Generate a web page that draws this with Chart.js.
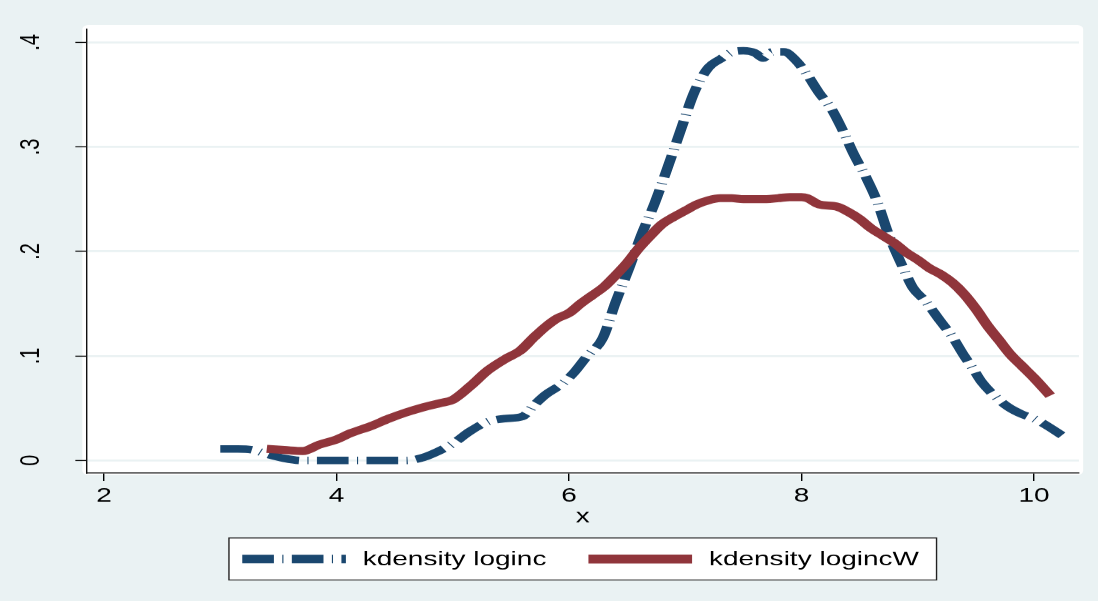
<!DOCTYPE html>
<html>
<head>
<meta charset="utf-8">
<script src="https://cdn.jsdelivr.net/npm/chart.js@4.4.1/dist/chart.umd.min.js"></script>
<style>
  html, body { margin: 0; padding: 0; background: #EAF2F3; overflow: hidden; }
  /* the graph is laid out on a narrow canvas and widened horizontally */
  #wrap { width: 784px; height: 601px; transform: scaleX(1.40051); transform-origin: 0 0; }
  canvas { display: block; }
</style>
</head>
<body>
<div id="wrap"><canvas id="kd" width="784" height="601"></canvas></div>
<script>
// kernel density estimate of loginc
const logincX = [3.00, 3.15, 3.28, 3.40, 3.55, 3.70, 4.00, 4.30, 4.60, 4.75, 4.90, 5.00, 5.15, 5.30, 5.45, 5.60,
                 5.70, 5.80, 5.95, 6.05, 6.15, 6.29, 6.40, 6.52, 6.62, 6.74, 6.86, 6.97, 7.08, 7.20, 7.30, 7.41,
                 7.50, 7.60, 7.67, 7.75, 7.85, 7.95, 8.05, 8.15, 8.26, 8.35, 8.45, 8.56, 8.65, 8.75, 8.88, 8.96,
                 9.07, 9.19, 9.30, 9.40, 9.48, 9.55, 9.65, 9.78, 9.90, 10.00, 10.10, 10.24];
const logincY = [0.011, 0.011, 0.010, 0.006, 0.002, 0.000, 0.000, 0.000, 0.000, 0.003, 0.010, 0.016, 0.028, 0.037, 0.040, 0.042,
                 0.053, 0.063, 0.074, 0.085, 0.099, 0.117, 0.151, 0.185, 0.215, 0.247, 0.284, 0.319, 0.353, 0.376, 0.384, 0.391,
                 0.392, 0.390, 0.385, 0.391, 0.391, 0.383, 0.369, 0.352, 0.336, 0.317, 0.293, 0.270, 0.248, 0.216, 0.183, 0.165,
                 0.152, 0.134, 0.118, 0.100, 0.087, 0.075, 0.063, 0.051, 0.044, 0.040, 0.034, 0.024];

// kernel density estimate of logincW
const logincWX = [3.40, 3.55, 3.71, 3.85, 4.00, 4.12, 4.30, 4.45, 4.60, 4.75, 4.90, 5.00, 5.15, 5.30, 5.45, 5.58,
                  5.70, 5.80, 5.90, 6.00, 6.10, 6.20, 6.30, 6.40, 6.50, 6.60, 6.70, 6.80, 6.90, 7.00, 7.10, 7.20,
                  7.30, 7.40, 7.50, 7.60, 7.70, 7.80, 7.90, 8.00, 8.05, 8.15, 8.30, 8.40, 8.50, 8.60, 8.70, 8.80,
                  8.90, 9.00, 9.10, 9.20, 9.30, 9.40, 9.50, 9.60, 9.70, 9.80, 9.90, 10.00, 10.14];
const logincWY = [0.011, 0.010, 0.009, 0.015, 0.020, 0.026, 0.033, 0.040, 0.046, 0.051, 0.055, 0.058, 0.071, 0.086, 0.097, 0.105,
                  0.118, 0.128, 0.136, 0.141, 0.150, 0.158, 0.166, 0.177, 0.189, 0.203, 0.215, 0.226, 0.233, 0.239, 0.245, 0.249,
                  0.251, 0.251, 0.250, 0.250, 0.250, 0.251, 0.252, 0.252, 0.251, 0.245, 0.243, 0.238, 0.231, 0.222, 0.215, 0.208,
                  0.199, 0.192, 0.184, 0.178, 0.170, 0.159, 0.145, 0.129, 0.115, 0.101, 0.090, 0.079, 0.062];

const seriesLabels = ['kdensity loginc', 'kdensity logincW'];
const xTickValues = [2, 4, 6, 8, 10];
const yTickValues = [0, 0.1, 0.2, 0.3, 0.4];
const yTickLabels = ['0', '.1', '.2', '.3', '.4'];
const xTitle = 'x';

const BG = '#EAF2F3';
const NAVY = '#1A476F';
const MAROON = '#90353B';
const FONT = '"Liberation Sans", Arial, Helvetica, sans-serif';

Chart.defaults.font.family = FONT;
Chart.defaults.font.size = 20;
Chart.defaults.color = '#000';

const toPoints = (xs, ys) => xs.map((x, i) => ({ x: x, y: ys[i] }));

// page background and the white plot region behind the axes
const backdrop = {
  id: 'backdrop',
  beforeDraw(chart) {
    const { ctx, chartArea: a, width, height } = chart;
    ctx.save();
    ctx.fillStyle = BG;
    ctx.fillRect(0, 0, width, height);
    ctx.fillStyle = '#fff';
    ctx.beginPath();
    ctx.roundRect(a.left - 3, a.top - 4, a.right - a.left + 6, a.bottom - a.top + 6, 4);
    ctx.fill();
    ctx.restore();
  }
};

// boxed legend below the x-axis title
const boxLegend = {
  id: 'boxLegend',
  afterDraw(chart) {
    const { ctx, chartArea: a, scales } = chart;
    const ds = chart.data.datasets;
    const padL = 10, padR = 13, sym = 74, gapText = 12, gapItem = 30, boxH = 43;
    ctx.save();
    ctx.font = '20px ' + FONT;
    const widths = ds.map(d => ctx.measureText(d.label).width);
    let total = padL + padR;
    widths.forEach((w, i) => { total += sym + gapText + w + (i ? gapItem : 0); });
    const left = (a.left + a.right) / 2 - total / 2;
    const top = scales.x.bottom + 4.5;
    ctx.fillStyle = '#fff';
    ctx.fillRect(left, top, total, boxH);
    ctx.strokeStyle = '#222';
    ctx.lineWidth = 1;
    ctx.strokeRect(left + 0.5, top + 0.5, total - 1, boxH - 1);
    const cy = top + boxH / 2;
    let x = left + padL;
    ds.forEach((d, i) => {
      if (i) x += gapItem;
      ctx.beginPath();
      ctx.strokeStyle = d.borderColor;
      ctx.lineWidth = d.borderWidth + 1;
      ctx.lineCap = 'butt';
      ctx.setLineDash(d.borderDash || []);
      ctx.moveTo(x, cy);
      ctx.lineTo(x + sym, cy);
      ctx.stroke();
      ctx.setLineDash([]);
      x += sym + gapText;
      ctx.fillStyle = '#000';
      ctx.textAlign = 'left';
      ctx.textBaseline = 'middle';
      ctx.fillText(d.label, x, cy + 1);
      x += widths[i];
    });
    ctx.restore();
  }
};

new Chart(document.getElementById('kd'), {
  type: 'line',
  data: {
    datasets: [
      {
        label: seriesLabels[0],
        data: toPoints(logincX, logincY),
        borderColor: NAVY,
        borderWidth: 7.5,
        borderDash: [22.6, 6, 0.8, 6],
        borderCapStyle: 'butt',
        borderJoinStyle: 'round',
        cubicInterpolationMode: 'monotone',
        pointRadius: 0,
        fill: false,
        order: 1
      },
      {
        label: seriesLabels[1],
        data: toPoints(logincWX, logincWY),
        borderColor: MAROON,
        borderWidth: 8,
        borderCapStyle: 'butt',
        borderJoinStyle: 'round',
        cubicInterpolationMode: 'monotone',
        pointRadius: 0,
        fill: false,
        order: 0
      }
    ]
  },
  options: {
    responsive: false,
    devicePixelRatio: 1.40051,
    animation: false,
    events: [],
    layout: { padding: { left: 0, right: 13.6, top: 29, bottom: 68.5 } },
    plugins: { legend: { display: false }, tooltip: { enabled: false } },
    scales: {
      x: {
        type: 'linear',
        min: 1.8495,
        max: 10.387,
        afterBuildTicks: s => { s.ticks = xTickValues.map(v => ({ value: v })); },
        afterFit: s => { s.height = 60; s.paddingLeft = 0; s.paddingRight = 0; },
        ticks: { padding: 3.5, maxRotation: 0, autoSkip: false, color: '#000', font: { size: 20 } },
        grid: { drawOnChartArea: false, drawTicks: true, tickLength: 8, tickColor: '#000', tickWidth: 1 },
        border: { display: true, color: '#111', width: 1 },
        title: { display: true, text: xTitle, color: '#000', font: { size: 20 }, padding: { top: 0, bottom: 3.8 } }
      },
      y: {
        type: 'linear',
        min: -0.01197,
        max: 0.41284,
        afterBuildTicks: s => { s.ticks = yTickValues.map(v => ({ value: v })); },
        afterFit: s => { s.width = 61.8; s.paddingTop = 0; s.paddingBottom = 0; },
        ticks: {
          minRotation: 90,
          maxRotation: 90,
          crossAlign: 'center',
          padding: 23,
          color: '#000',
          font: { size: 20 },
          callback: v => yTickLabels[yTickValues.findIndex(t => Math.abs(t - v) < 1e-9)]
        },
        grid: { color: BG, lineWidth: 2, drawTicks: true, tickLength: 8, tickColor: '#000', tickWidth: 1 },
        border: { display: true, color: '#111', width: 1 }
      }
    }
  },
  plugins: [backdrop, boxLegend]
});
</script>
</body>
</html>
